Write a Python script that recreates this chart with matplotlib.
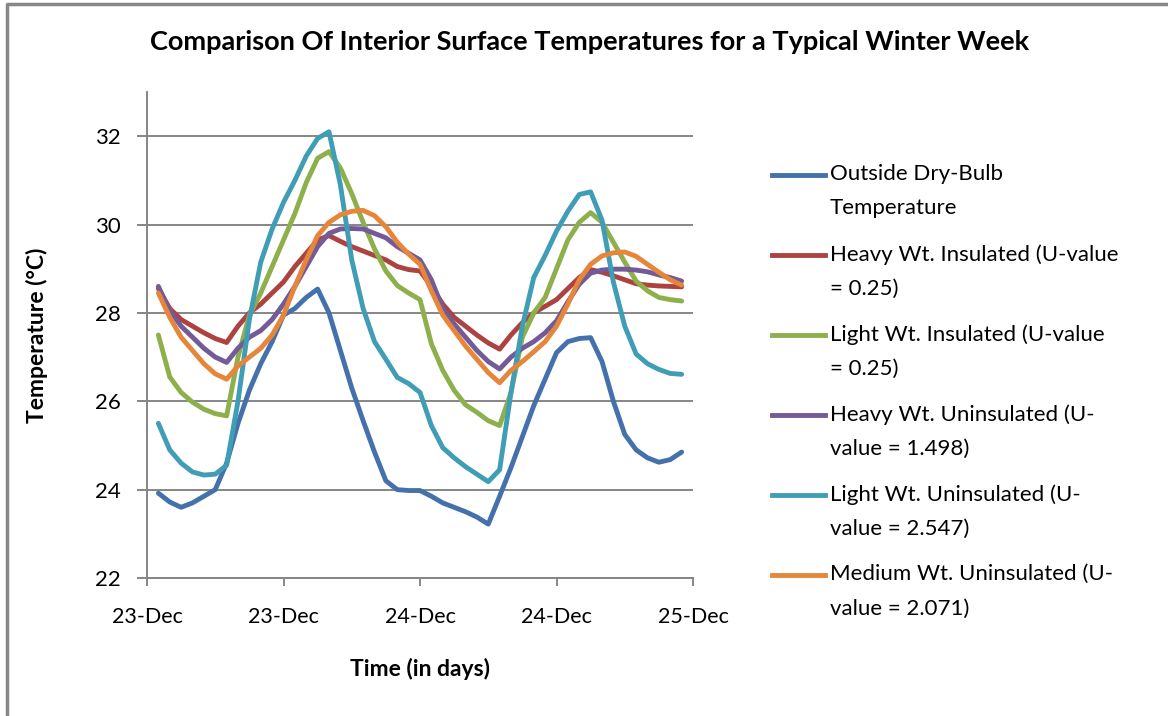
import numpy as np
import matplotlib
matplotlib.use("Agg")
import matplotlib.pyplot as plt
from matplotlib.lines import Line2D

plt.rcParams['font.family'] = ['Lato', 'DejaVu Sans']

# hourly readings, 23-Dec 01:00 to 24-Dec 23:00
hours = np.arange(1, 48)

outside = [23.92, 23.72, 23.60, 23.70, 23.85, 24.00, 24.60, 25.50, 26.25, 26.85,
           27.35, 27.95, 28.10, 28.35, 28.54, 28.00, 27.15, 26.30, 25.56, 24.85,
           24.20, 24.00, 23.98, 23.98, 23.85, 23.70, 23.60, 23.50, 23.38, 23.22,
           23.85, 24.50, 25.20, 25.90, 26.50, 27.10, 27.35, 27.42, 27.44, 26.90,
           26.00, 25.25, 24.90, 24.72, 24.62, 24.68, 24.85]
heavy_ins = [28.55, 28.10, 27.85, 27.70, 27.55, 27.42, 27.33, 27.70, 28.00, 28.20,
             28.45, 28.70, 29.05, 29.35, 29.65, 29.75, 29.62, 29.50, 29.40, 29.30,
             29.20, 29.05, 28.98, 28.95, 28.60, 28.20, 27.90, 27.70, 27.50, 27.32,
             27.18, 27.50, 27.78, 28.00, 28.15, 28.30, 28.55, 28.80, 28.98, 28.92,
             28.84, 28.75, 28.66, 28.63, 28.61, 28.60, 28.59]
light_ins = [27.50, 26.55, 26.20, 25.98, 25.82, 25.72, 25.67, 27.00, 27.95, 28.45,
             29.05, 29.65, 30.25, 30.95, 31.50, 31.65, 31.28, 30.70, 30.05, 29.45,
             28.95, 28.62, 28.45, 28.30, 27.30, 26.70, 26.25, 25.92, 25.75, 25.56,
             25.45, 26.20, 27.45, 28.00, 28.35, 29.00, 29.65, 30.05, 30.27, 30.05,
             29.60, 29.15, 28.72, 28.50, 28.35, 28.30, 28.27]
heavy_unins = [28.60, 28.05, 27.70, 27.45, 27.20, 27.00, 26.88, 27.20, 27.45, 27.60,
               27.85, 28.20, 28.60, 29.05, 29.50, 29.80, 29.90, 29.91, 29.90, 29.80,
               29.70, 29.50, 29.35, 29.20, 28.75, 28.10, 27.75, 27.45, 27.15, 26.90,
               26.73, 27.00, 27.20, 27.35, 27.55, 27.82, 28.25, 28.65, 28.90, 28.97,
               28.99, 28.99, 28.97, 28.93, 28.86, 28.80, 28.72]
light_unins = [25.50, 24.90, 24.60, 24.40, 24.33, 24.35, 24.55, 26.00, 27.85, 29.15,
               29.90, 30.50, 31.00, 31.55, 31.95, 32.10, 30.90, 29.20, 28.10, 27.35,
               26.95, 26.54, 26.40, 26.20, 25.45, 24.95, 24.72, 24.52, 24.35, 24.18,
               24.45, 26.20, 27.70, 28.80, 29.30, 29.85, 30.30, 30.68, 30.74, 30.10,
               28.70, 27.70, 27.07, 26.85, 26.72, 26.63, 26.61]
medium_unins = [28.45, 27.90, 27.45, 27.15, 26.85, 26.62, 26.50, 26.80, 27.00, 27.20,
                27.50, 27.95, 28.60, 29.20, 29.75, 30.05, 30.22, 30.30, 30.32, 30.20,
                29.95, 29.60, 29.33, 29.10, 28.50, 27.95, 27.60, 27.25, 26.95, 26.65,
                26.42, 26.70, 26.90, 27.12, 27.35, 27.70, 28.20, 28.75, 29.10, 29.29,
                29.36, 29.38, 29.28, 29.10, 28.92, 28.75, 28.63]

labels = ["Outside Dry-Bulb\nTemperature",
          "Heavy Wt. Insulated (U-value\n= 0.25)",
          "Light Wt. Insulated (U-value\n= 0.25)",
          "Heavy Wt. Uninsulated (U-\nvalue = 1.498)",
          "Light Wt. Uninsulated (U-\nvalue = 2.547)",
          "Medium Wt. Uninsulated (U-\nvalue = 2.071)"]
colors = ['#4471AB', '#AD4341', '#8DB04C', '#735A98', '#409DB6', '#E6863A']
series = [outside, heavy_ins, light_ins, heavy_unins, light_unins, medium_unins]

tick_pos = [0, 0.5, 1, 1.5, 2]
tick_labels = ["23-Dec", "23-Dec", "24-Dec", "24-Dec", "25-Dec"]

W, H = 1168, 716
fig = plt.figure(figsize=(W / 100, H / 100), dpi=100)
ax = fig.add_axes([147 / W, 1 - 578 / H, 546 / W, 486 / H])

days = hours / 24.0
for vals, c in zip(series, colors):
    ax.plot(days, vals, color=c, lw=3.5, solid_capstyle='round', solid_joinstyle='round')

grey = '#868686'
ax.set_xlim(0, 2)
ax.set_ylim(22, 33)
ax.set_yticks(range(22, 33, 2))
ax.set_xticks(tick_pos)
ax.set_xticklabels(tick_labels)
ax.grid(axis='y', color=grey, lw=1.4)
ax.set_axisbelow(True)
for s in ['top', 'right']:
    ax.spines[s].set_visible(False)
for s in ['left', 'bottom']:
    ax.spines[s].set_color(grey)
    ax.spines[s].set_linewidth(1.4)
ax.tick_params(axis='y', direction='out', length=7, width=1.4, color=grey,
               pad=12, labelsize=16)
ax.tick_params(axis='x', direction='out', length=6, width=1.4, color=grey,
               pad=15, labelsize=15.5)

ax.set_ylabel("Temperature (°C)", fontsize=16.5, fontweight='bold', labelpad=34)
ax.set_xlabel("Time (in days)", fontsize=16.5, fontweight='bold', labelpad=22)
fig.text(590 / W, 1 - 42 / H, "Comparison Of Interior Surface Temperatures for a Typical Winter Week",
         ha='center', va='center', fontsize=19.5, fontweight='bold')

# legend on the right, handle level with the first text line
for i, (lab, c) in enumerate(zip(labels, colors)):
    y = 1 - (175 + i * 80) / H
    fig.add_artist(Line2D([772 / W, 825 / W], [y, y], color=c, lw=3.5,
                          transform=fig.transFigure))
    fig.text(830 / W, y + 11 / H, lab, ha='left', va='top', fontsize=16,
             linespacing=1.9)

# chart area border
fig.add_artist(Line2D([7 / W, 7 / W, 1.0], [0, 1 - 3.5 / H, 1 - 3.5 / H],
                      color='#878787', lw=2.5, transform=fig.transFigure))

fig.savefig("out.png", dpi=100)
